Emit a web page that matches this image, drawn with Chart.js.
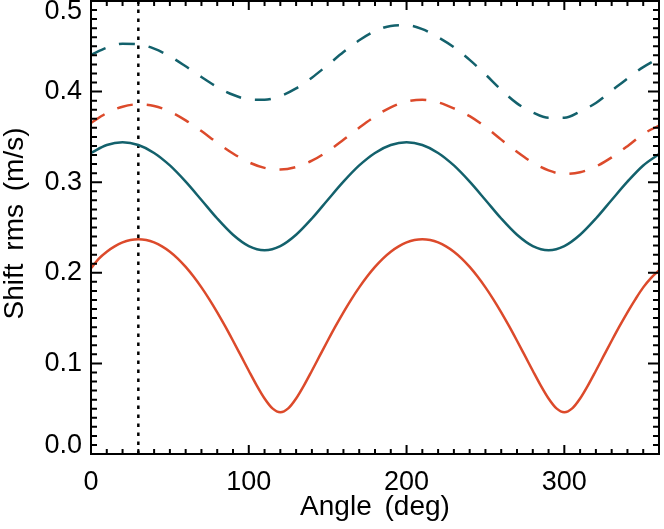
<!DOCTYPE html>
<html>
<head>
<meta charset="utf-8">
<script src="https://cdn.jsdelivr.net/npm/chart.js@4"></script>
<style>
  body { margin: 0; background: #fff; }
  canvas { display: block; }
</style>
</head>
<body>
<canvas id="shiftChart" width="664" height="529"></canvas>
<script>
// Data (angle in deg, shift rms in m/s)
const angles = [0, 10, 20, 30, 40, 50, 60, 70, 80, 90, 100, 110, 120, 130, 140, 150, 160, 170, 180,
  190, 200, 210, 220, 230, 240, 250, 260, 270, 280, 290, 300, 310, 320, 330, 340, 350, 360];

// the lower red curve has a sharp dip, so it is read every 5 deg
const fineAngles = [0, 5, 10, 15, 20, 25, 30, 35, 40, 45, 50, 55, 60, 65, 70, 75, 80, 85, 90,
  95, 100, 105, 110, 115, 120, 125, 130, 135, 140, 145, 150, 155, 160, 165, 170, 175, 180,
  185, 190, 195, 200, 205, 210, 215, 220, 225, 230, 235, 240, 245, 250, 255, 260, 265, 270,
  275, 280, 285, 290, 295, 300, 305, 310, 315, 320, 325, 330, 335, 340, 345, 350, 355, 360];

const redSolid = [0.205, 0.2157, 0.2233, 0.2292, 0.2335, 0.2361, 0.2370, 0.2361, 0.2335, 0.2292,
  0.2233, 0.2157, 0.2065, 0.1959, 0.1839, 0.1707, 0.1564, 0.1411, 0.1250, 0.1085, 0.0919, 0.0757,
  0.0612, 0.0503, 0.0460, 0.0503, 0.0612, 0.0757, 0.0919, 0.1085, 0.1250, 0.1411, 0.1564, 0.1707,
  0.1839, 0.1959, 0.2065, 0.2157, 0.2233, 0.2292, 0.2335, 0.2361, 0.2370, 0.2361, 0.2335, 0.2292,
  0.2233, 0.2157, 0.2065, 0.1959, 0.1839, 0.1707, 0.1564, 0.1411, 0.1250, 0.1085, 0.0919, 0.0757,
  0.0612, 0.0503, 0.0460, 0.0503, 0.0612, 0.0757, 0.0919, 0.1085, 0.1250, 0.1411, 0.1564, 0.1707,
  0.1839, 0.1945, 0.2025];

const tealSolid = [0.3323, 0.3410, 0.3440, 0.3410, 0.3323, 0.3185, 0.3006, 0.2804, 0.2599, 0.2420,
  0.2295, 0.2250, 0.2295, 0.2420, 0.2599, 0.2804, 0.3006, 0.3185, 0.3323, 0.3410, 0.3440, 0.3410,
  0.3323, 0.3185, 0.3006, 0.2804, 0.2599, 0.2420, 0.2295, 0.2250, 0.2295, 0.2420, 0.2599, 0.2804,
  0.3006, 0.3185, 0.3310];

const redDashed = [0.3655, 0.3763, 0.3833, 0.3860, 0.3842, 0.3780, 0.3683, 0.3564, 0.3436, 0.3317,
  0.3220, 0.3158, 0.3140, 0.3167, 0.3237, 0.3341, 0.3468, 0.3602, 0.3726, 0.3827, 0.3891, 0.3910,
  0.3882, 0.3815, 0.3730, 0.3610, 0.3470, 0.3335, 0.3215, 0.3130, 0.3090, 0.3110, 0.3173, 0.3274,
  0.3398, 0.3532, 0.3625];

const tealDashed = [0.4405, 0.4485, 0.4528, 0.4523, 0.4474, 0.4389, 0.4279, 0.4161, 0.4051, 0.3965,
  0.3915, 0.3910, 0.3951, 0.4035, 0.4154, 0.4293, 0.4436, 0.4566, 0.4667, 0.4725, 0.4732, 0.4690,
  0.4600, 0.4490, 0.4350, 0.4190, 0.4020, 0.3870, 0.3770, 0.3710, 0.3710, 0.3780, 0.3875, 0.4010,
  0.4145, 0.4270, 0.4370];

const markerAngle = 30;

const xTickValues = [0, 100, 200, 300];
const xTickLabels = ['0', '100', '200', '300'];
const yTickValues = [0, 0.1, 0.2, 0.3, 0.4, 0.5];
const yTickLabels = ['0.0', '0.1', '0.2', '0.3', '0.4', '0.5'];

const xTitle = 'Angle (deg)';
const yTitle = 'Shift rms (m/s)';

const TEAL = '#13616c';
const RED = '#dc4a2b';
const FONT = '"Liberation Sans", Arial, sans-serif';

function toPoints(xs, ys) {
  return xs.map((a, i) => ({ x: a, y: ys[i] }));
}

// Frame, inward ticks on all four sides, labels and titles (IDL style)
const framePlugin = {
  id: 'frame',
  afterDraw(chart) {
    const ctx = chart.ctx;
    const a = chart.chartArea;
    const xs = chart.scales.x;
    const ys = chart.scales.y;
    ctx.save();
    ctx.strokeStyle = '#000';
    ctx.lineWidth = 2;
    ctx.strokeRect(a.left, a.top, a.right - a.left, a.bottom - a.top);

    ctx.beginPath();
    for (let v = 0; v <= 360; v += 10) {
      const px = xs.getPixelForValue(v);
      const len = v % 100 === 0 ? 9 : 5;
      ctx.moveTo(px, a.bottom); ctx.lineTo(px, a.bottom - len);
      ctx.moveTo(px, a.top); ctx.lineTo(px, a.top + len);
    }
    for (let k = 0; k <= 50; k++) {
      const py = ys.getPixelForValue(k / 100);
      const len = k % 10 === 0 ? 11 : 6;
      ctx.moveTo(a.left, py); ctx.lineTo(a.left + len, py);
      ctx.moveTo(a.right, py); ctx.lineTo(a.right - len, py);
    }
    ctx.stroke();

    ctx.fillStyle = '#000';
    ctx.font = '27px ' + FONT;
    ctx.textAlign = 'center';
    ctx.textBaseline = 'middle';
    xTickValues.forEach((v, i) => {
      ctx.fillText(xTickLabels[i], xs.getPixelForValue(v), 483);
    });
    ctx.textAlign = 'right';
    yTickValues.forEach((v, i) => {
      let py = ys.getPixelForValue(v);
      py = Math.min(Math.max(py, a.top + 11), a.bottom - 8);
      ctx.fillText(yTickLabels[i], a.left - 9, py);
    });

    ctx.font = '28px ' + FONT;
    ctx.wordSpacing = '5px';
    ctx.textAlign = 'center';
    ctx.fillText(xTitle, (a.left + a.right) / 2, 507);
    ctx.translate(15, (a.top + a.bottom) / 2 - 4);
    ctx.rotate(-Math.PI / 2);
    ctx.fillText(yTitle, 0, 0);
    ctx.restore();
  }
};

const ctxShift = document.getElementById('shiftChart').getContext('2d');
const shiftChart = new Chart(ctxShift, {
  type: 'line',
  data: {
    datasets: [
      { data: toPoints(angles, tealDashed), borderColor: TEAL, borderWidth: 2.5, borderDash: [16, 14] },
      { data: toPoints(angles, redDashed), borderColor: RED, borderWidth: 2.5, borderDash: [16, 14] },
      { data: toPoints(angles, tealSolid), borderColor: TEAL, borderWidth: 2.5 },
      { data: toPoints(fineAngles, redSolid), borderColor: RED, borderWidth: 2.5 },
      {
        data: [{ x: markerAngle, y: 0 }, { x: markerAngle, y: 0.5 }],
        borderColor: '#000', borderWidth: 2.5, borderDash: [3.5, 5.5],
        cubicInterpolationMode: 'default', tension: 0
      }
    ]
  },
  options: {
    responsive: false,
    animation: false,
    layout: { padding: { left: 91, right: 5, top: 1, bottom: 75 } },
    elements: {
      point: { radius: 0 },
      line: { cubicInterpolationMode: 'monotone', fill: false }
    },
    plugins: {
      legend: { display: false },
      tooltip: { enabled: false }
    },
    scales: {
      x: { type: 'linear', min: 0, max: 360, display: false },
      y: { type: 'linear', min: 0, max: 0.5, display: false }
    }
  },
  plugins: [framePlugin]
});
</script>
</body>
</html>
